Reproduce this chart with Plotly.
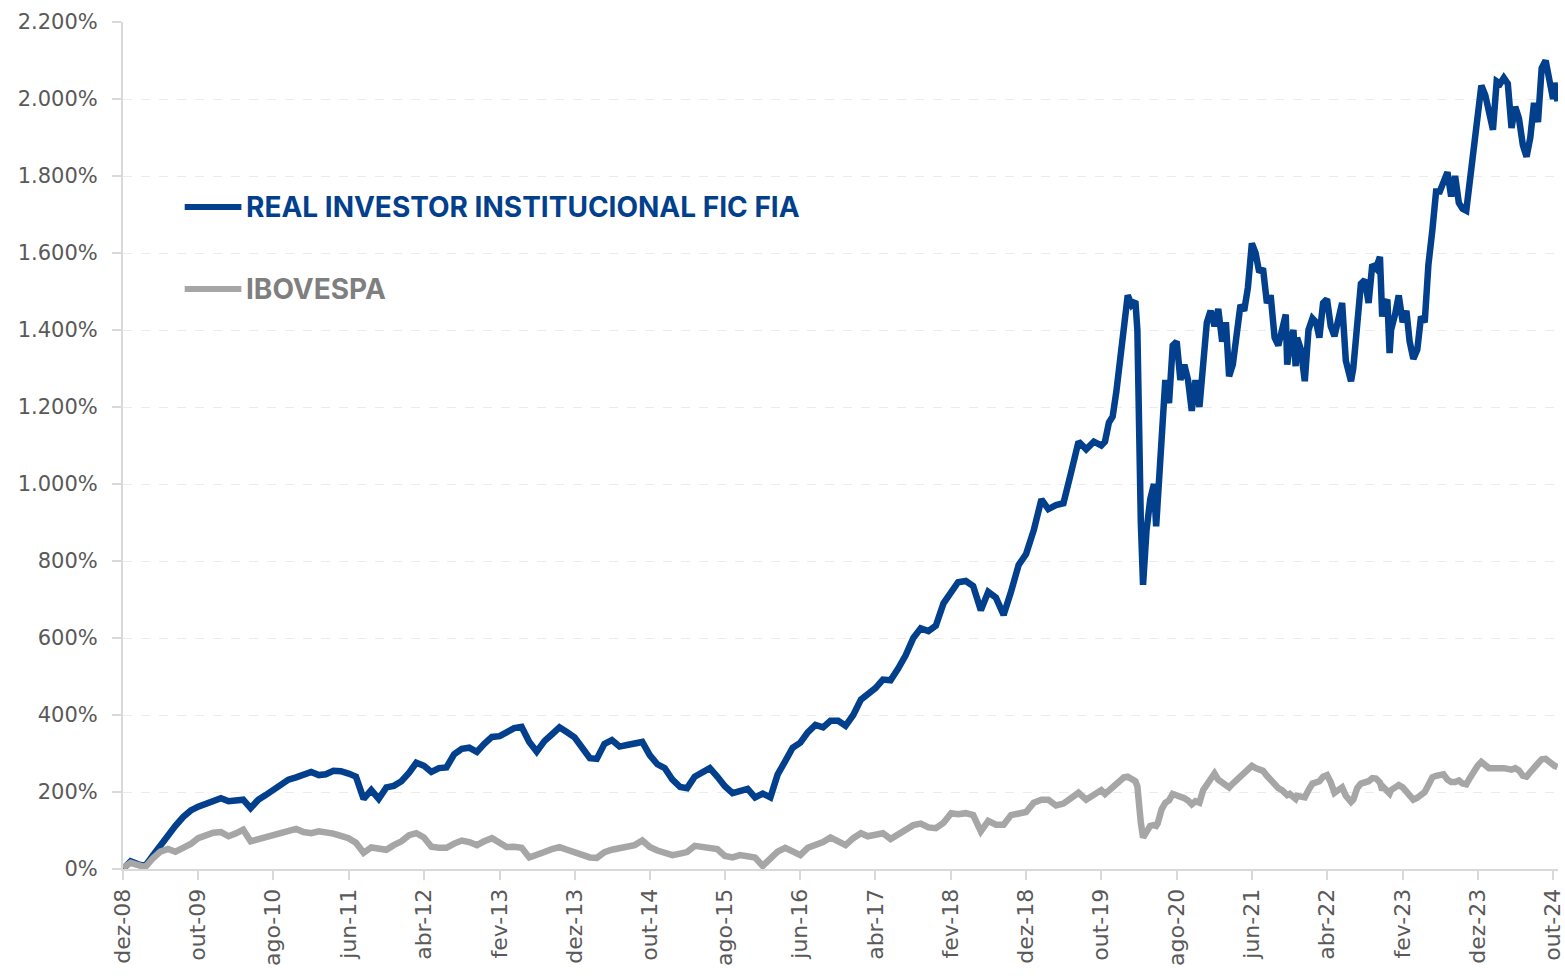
import pandas as pd
import plotly.graph_objects as go

# monthly part of the series (dez-08 .. set-19), values in % accumulated return
monthly_dates = pd.date_range('2008-12-01', '2019-09-01', freq='MS')

fund_monthly = [0, 20, 12, 8, 35, 62, 88, 112, 135, 152,
                162, 170, 176, 184, 176, 178, 180, 158, 180, 192,
                206, 220, 232, 238, 246, 252, 244, 246, 255, 254,
                248, 240, 182, 205, 182, 212, 216, 228, 250, 276,
                268, 252, 262, 264, 298, 312, 315, 304, 325, 343,
                345, 355, 366, 369, 330, 305, 332, 350, 368, 355,
                342, 315, 288, 286, 325, 335, 318, 322, 328, 330,
                296, 272, 262, 232, 213, 210, 240, 252, 262, 240,
                215, 197, 204, 208, 186, 196, 186, 245, 280, 315,
                328, 355, 374, 368, 385, 385, 372, 400, 440, 455,
                470, 492, 490, 520, 555, 600, 625, 618, 632, 690,
                722, 745, 748, 735, 672, 720, 705, 660, 720, 790,
                818, 880, 960, 935, 945, 950, 1030, 1110, 1090, 1110]

ibov_monthly = [3, 16, 10, 5, 28, 45, 52, 45, 55, 65,
                80, 88, 94, 96, 85, 92, 102, 72, 78, 82,
                88, 95, 102, 104, 96, 93, 98, 96, 92, 86,
                80, 68, 42, 56, 54, 50, 62, 72, 88, 93,
                82, 58, 55, 55, 66, 74, 70, 62, 72, 80,
                68, 57, 58, 55, 30, 35, 44, 52, 57, 50,
                44, 35, 30, 29, 44, 50, 55, 57, 62, 74,
                57, 48, 44, 36, 40, 44, 60, 58, 55, 52,
                34, 30, 36, 33, 30, 8, 30, 45, 55, 45,
                36, 55, 62, 70, 82, 72, 62, 80, 93, 85,
                88, 93, 78, 90, 100, 114, 118, 108, 106, 120,
                145, 142, 145, 140, 98, 125, 115, 115, 140, 145,
                148, 172, 180, 180, 165, 170, 185, 198, 180, 195]

# denser part (out-19 .. out-24)
late_dates = ['2019-10-01', '2019-10-16', '2019-11-01', '2019-11-16', '2019-12-01', '2019-12-16',
              '2020-01-01', '2020-01-16', '2020-02-01', '2020-02-16', '2020-02-24', '2020-03-01',
              '2020-03-09', '2020-03-18', '2020-04-01', '2020-04-16', '2020-05-01', '2020-05-10',
              '2020-05-16', '2020-06-01', '2020-06-16', '2020-07-01', '2020-07-16', '2020-08-01',
              '2020-08-16', '2020-09-01', '2020-09-16', '2020-10-01', '2020-10-16', '2020-11-01',
              '2020-11-16', '2020-12-01', '2020-12-16', '2021-01-01', '2021-01-16', '2021-02-01',
              '2021-02-16', '2021-03-01', '2021-03-16', '2021-04-01', '2021-04-16', '2021-05-01',
              '2021-05-16', '2021-06-01', '2021-06-16', '2021-07-01', '2021-07-16', '2021-08-01',
              '2021-08-16', '2021-09-01', '2021-09-16', '2021-10-01', '2021-10-16', '2021-10-22',
              '2021-11-01', '2021-11-16', '2021-11-25', '2021-12-01', '2021-12-16', '2022-01-01',
              '2022-01-16', '2022-02-01', '2022-02-16', '2022-03-01', '2022-03-16', '2022-04-01',
              '2022-04-16', '2022-05-01', '2022-05-16', '2022-06-01', '2022-06-16', '2022-07-01',
              '2022-07-07', '2022-07-16', '2022-08-01', '2022-08-16', '2022-09-01', '2022-09-16',
              '2022-10-01', '2022-10-16', '2022-11-01', '2022-11-10', '2022-11-16', '2022-12-01',
              '2022-12-10', '2022-12-16', '2023-01-01', '2023-01-16', '2023-02-01', '2023-02-16',
              '2023-03-01', '2023-03-16', '2023-04-01', '2023-04-16', '2023-05-01', '2023-05-16',
              '2023-06-01', '2023-06-16', '2023-07-01', '2023-07-16', '2023-08-01', '2023-08-16',
              '2023-09-01', '2023-09-16', '2023-10-01', '2023-10-16', '2023-11-01', '2023-11-16',
              '2023-12-01', '2023-12-16', '2024-01-01', '2024-01-16', '2024-02-01', '2024-02-16',
              '2024-03-01', '2024-03-16', '2024-04-01', '2024-04-16', '2024-05-01', '2024-05-16',
              '2024-06-01', '2024-06-16', '2024-07-01', '2024-07-16', '2024-08-01', '2024-08-16',
              '2024-09-01', '2024-09-16', '2024-10-01', '2024-10-07', '2024-10-19']

fund_late = [1100, 1110, 1160, 1175, 1240, 1330,
             1410, 1490, 1465, 1475, 1400, 1050,
             900, 738, 880, 960, 1000, 890,
             950, 1150, 1270, 1210, 1360, 1370,
             1270, 1310, 1270, 1190, 1270, 1200,
             1330, 1420, 1450, 1410, 1455, 1370,
             1420, 1280, 1310, 1390, 1465, 1450,
             1510, 1625, 1600, 1550, 1560, 1470,
             1490, 1380, 1360, 1400, 1440, 1310,
             1360, 1400, 1306, 1380, 1350, 1267,
             1400, 1430, 1420, 1380, 1470, 1480,
             1410, 1384, 1430, 1470, 1320, 1280,
             1267, 1300, 1420, 1520, 1530, 1470,
             1570, 1560, 1590, 1435, 1460, 1479,
             1340, 1400, 1440, 1490, 1420, 1450,
             1370, 1325, 1349, 1435, 1420, 1570,
             1660, 1760, 1760, 1780, 1810, 1747,
             1800, 1730, 1715, 1710, 1790, 1877,
             1950, 2035, 2010, 1960, 1920, 2046,
             2040, 2055, 2040, 1925, 1980, 1950,
             1880, 1850, 1900, 1990, 1940, 2080,
             2100, 2050, 2000, 2042, 1994]

ibov_late = [205, 195, 205, 212, 220, 232,
             238, 240, 232, 228, 215, 160,
             120, 82, 100, 112, 114, 112,
             118, 155, 172, 178, 195, 192,
             188, 184, 178, 168, 176, 172,
             205, 220, 238, 248, 232, 224,
             218, 212, 222, 232, 240, 245,
             255, 268, 262, 258, 255, 242,
             232, 218, 210, 205, 197, 192,
             195, 186, 182, 190, 186, 186,
             205, 222, 225, 228, 240, 244,
             225, 198, 205, 212, 190, 176,
             174, 180, 210, 222, 224, 228,
             236, 235, 225, 205, 212, 198,
             196, 205, 212, 218, 212, 200,
             188, 180, 185, 195, 200, 218,
             238, 242, 244, 246, 232, 226,
             226, 230, 222, 220, 238, 256,
             268, 278, 272, 262, 262, 264,
             262, 262, 260, 258, 262, 256,
             242, 240, 252, 264, 272, 285,
             286, 276, 272, 268, 265]

dates = list(monthly_dates.strftime('%Y-%m-%d')) + late_dates
fund_values = fund_monthly + fund_late
ibov_values = ibov_monthly + ibov_late
assert len(dates) == len(fund_values) == len(ibov_values)

fund_name = 'REAL INVESTOR INSTITUCIONAL FIC FIA'
ibov_name = 'IBOVESPA'

x_tick_dates = pd.date_range('2008-12-01', periods=20, freq='10MS')
x_tick_labels = ['dez-08', 'out-09', 'ago-10', 'jun-11', 'abr-12', 'fev-13', 'dez-13',
                 'out-14', 'ago-15', 'jun-16', 'abr-17', 'fev-18', 'dez-18', 'out-19',
                 'ago-20', 'jun-21', 'abr-22', 'fev-23', 'dez-23', 'out-24']
y_tick_vals = [0, 200, 400, 600, 800, 1000, 1200, 1400, 1600, 1800, 2000, 2200]
y_tick_labels = ['0%', '200%', '400%', '600%', '800%', '1.000%', '1.200%',
                 '1.400%', '1.600%', '1.800%', '2.000%', '2.200%']

BLUE = '#023f8c'
GREY = '#a6a6a6'
TICK_FONT = 'DejaVu Sans'

fig = go.Figure()
fig.add_trace(go.Scatter(x=dates, y=fund_values, name=fund_name, mode='lines',
                         line=dict(color=BLUE, width=6.5)))
fig.add_trace(go.Scatter(x=dates, y=ibov_values, name=ibov_name, mode='lines',
                         line=dict(color=GREY, width=6.5)))

# legend drawn by hand (long swatches, coloured bold text)
for yy, name, col, txtcol in [(0.7816, fund_name, BLUE, BLUE), (0.6848, ibov_name, GREY, '#7f7f7f')]:
    fig.add_shape(type='line', xref='paper', yref='paper', x0=0.043, x1=0.0825, y0=yy, y1=yy,
                  line=dict(color=col, width=6))
    fig.add_annotation(xref='paper', yref='paper', x=0.0846, y=yy, text='<b>' + name + '</b>',
                       showarrow=False, xanchor='left', yanchor='middle',
                       font=dict(family='Inter', size=28, color=txtcol))

fig.update_layout(
    width=1565, height=976, autosize=False,
    margin=dict(l=123, r=0, t=22, b=107),
    plot_bgcolor='white', paper_bgcolor='white',
    showlegend=False,
    font=dict(family=TICK_FONT, color='#595959', size=20),
)
fig.update_xaxes(type='date', range=['2008-12-01', '2024-10-21'],
                 tickmode='array', tickvals=x_tick_dates, ticktext=x_tick_labels,
                 tickangle=-90, showgrid=False, showline=True, linecolor='#d9d9d9', linewidth=2,
                 ticks='outside', ticklen=9, tickcolor='#d9d9d9', tickwidth=2,
                 ticklabeloverflow='allow',
                 tickfont=dict(family=TICK_FONT, size=22, color='#595959'))
fig.update_yaxes(range=[0, 2200], tickmode='array', tickvals=y_tick_vals, ticktext=y_tick_labels,
                 showgrid=True, gridcolor='#ebebeb', griddash='dash', gridwidth=1,
                 showline=True, linecolor='#d9d9d9', linewidth=2, zeroline=False,
                 ticks='outside', ticklen=9, tickcolor='#d9d9d9', tickwidth=2,
                 ticklabelstandoff=10,
                 tickfont=dict(family=TICK_FONT, size=21, color='#595959'))

fig.write_html('out.html', config={'displayModeBar': False},
               post_script="document.body.style.margin='0';")
